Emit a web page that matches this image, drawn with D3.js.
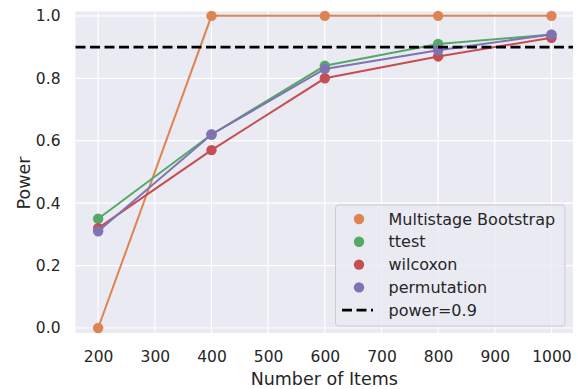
<!DOCTYPE html>
<html>
<head>
<meta charset="utf-8">
<script src="https://cdn.jsdelivr.net/npm/d3@7"></script>
<style>
  body { margin: 0; background: #fff; }
  text { font-family: "DejaVu Sans", sans-serif; fill: #262626; }
</style>
</head>
<body>
<div id="chart-container"></div>
<script>
const items = [200, 400, 600, 800, 1000];
const bootstrap = [0.0, 1.0, 1.0, 1.0, 1.0];
const ttest = [0.35, 0.62, 0.84, 0.91, 0.94];
const wilcoxon = [0.32, 0.57, 0.80, 0.87, 0.93];
const permutation = [0.31, 0.62, 0.83, 0.89, 0.94];
const powerLine = 0.9;
const xTicks = [200, 300, 400, 500, 600, 700, 800, 900, 1000];
const yTicks = [0.0, 0.2, 0.4, 0.6, 0.8, 1.0];

const seriesNames = ["Multistage Bootstrap", "ttest", "wilcoxon", "permutation"];
const seriesValues = [bootstrap, ttest, wilcoxon, permutation];
const colors = ["#dd8452", "#55a868", "#c44e52", "#8172b3"];

const W = 580, H = 389;
const margin = { top: 11.5, right: 7, bottom: 56, left: 75.5 };
const width = W - margin.left - margin.right;
const height = H - margin.top - margin.bottom;

const svg = d3.select("#chart-container")
  .append("svg")
  .attr("width", W)
  .attr("height", H)
  .append("g")
  .attr("transform", `translate(${margin.left},${margin.top})`);

const x = d3.scaleLinear().domain([160, 1038]).range([0, width]);
const y = d3.scaleLinear().domain([-0.016, 1.014]).range([height, 0]);

svg.append("rect")
  .attr("width", width)
  .attr("height", height)
  .attr("fill", "#eaeaf2");

// grid
svg.selectAll(".xgrid").data(xTicks).enter().append("line")
  .attr("x1", d => x(d)).attr("x2", d => x(d))
  .attr("y1", 0).attr("y2", height)
  .attr("stroke", "#fff").attr("stroke-width", 1.2);
svg.selectAll(".ygrid").data(yTicks).enter().append("line")
  .attr("y1", d => y(d)).attr("y2", d => y(d))
  .attr("x1", 0).attr("x2", width)
  .attr("stroke", "#fff").attr("stroke-width", 1.2);

// axes
const xAxis = svg.append("g")
  .attr("transform", `translate(0,${height})`)
  .call(d3.axisBottom(x).tickValues(xTicks).tickFormat(d3.format("d")).tickSize(0));
xAxis.selectAll("text").attr("y", 28.7).attr("dy", 0);
const yAxis = svg.append("g")
  .call(d3.axisLeft(y).tickValues(yTicks).tickFormat(d3.format(".1f")).tickSize(0));
yAxis.selectAll("text").attr("x", -15);
[xAxis, yAxis].forEach(a => {
  a.select(".domain").remove();
  a.selectAll("text").style("font-size", "15.5px").attr("fill", "#262626");
});

// lines + markers
const line = d3.line().x((d, i) => x(items[i])).y(d => y(d));
seriesValues.forEach((vals, k) => {
  svg.append("path")
    .datum(vals)
    .attr("fill", "none")
    .attr("stroke", colors[k])
    .attr("stroke-width", 2)
    .attr("d", line);
  svg.selectAll(".dot" + k).data(vals).enter().append("circle")
    .attr("cx", (d, i) => x(items[i]))
    .attr("cy", d => y(d))
    .attr("r", 5.2)
    .attr("fill", colors[k]);
});

svg.append("line")
  .attr("x1", 0).attr("x2", width)
  .attr("y1", y(powerLine)).attr("y2", y(powerLine))
  .attr("stroke", "#000")
  .attr("stroke-width", 2.7)
  .attr("stroke-dasharray", "10,4.5");

// labels
svg.append("text")
  .attr("x", width / 2)
  .attr("y", 385 - margin.top)
  .attr("text-anchor", "middle")
  .style("font-size", "17.5px")
  .text("Number of Items");

svg.append("text")
  .attr("transform", `translate(${30 - margin.left},${183 - margin.top}) rotate(-90)`)
  .attr("text-anchor", "middle")
  .style("font-size", "17.5px")
  .text("Power");

// legend
const lg = svg.append("g").attr("transform", `translate(${335.5 - margin.left},${205 - margin.top})`);
lg.append("rect")
  .attr("width", 229.5).attr("height", 121)
  .attr("rx", 3)
  .attr("fill", "#eaeaf2").attr("fill-opacity", 0.8)
  .attr("stroke", "#cccccc").attr("stroke-width", 1);
const rowY = i => 14 + i * 22.8;
seriesNames.forEach((name, i) => {
  lg.append("circle").attr("cx", 23.5).attr("cy", rowY(i)).attr("r", 5.2).attr("fill", colors[i]);
  lg.append("text").attr("x", 53).attr("y", rowY(i)).attr("dy", "0.35em")
    .style("font-size", "16px").text(name);
});
lg.append("line")
  .attr("x1", 6.5).attr("x2", 37.5)
  .attr("y1", rowY(4)).attr("y2", rowY(4))
  .attr("stroke", "#000").attr("stroke-width", 2.7)
  .attr("stroke-dasharray", "10,4.5");
lg.append("text").attr("x", 53).attr("y", rowY(4)).attr("dy", "0.35em")
  .style("font-size", "16px").text("power=0.9");
</script>
</body>
</html>
